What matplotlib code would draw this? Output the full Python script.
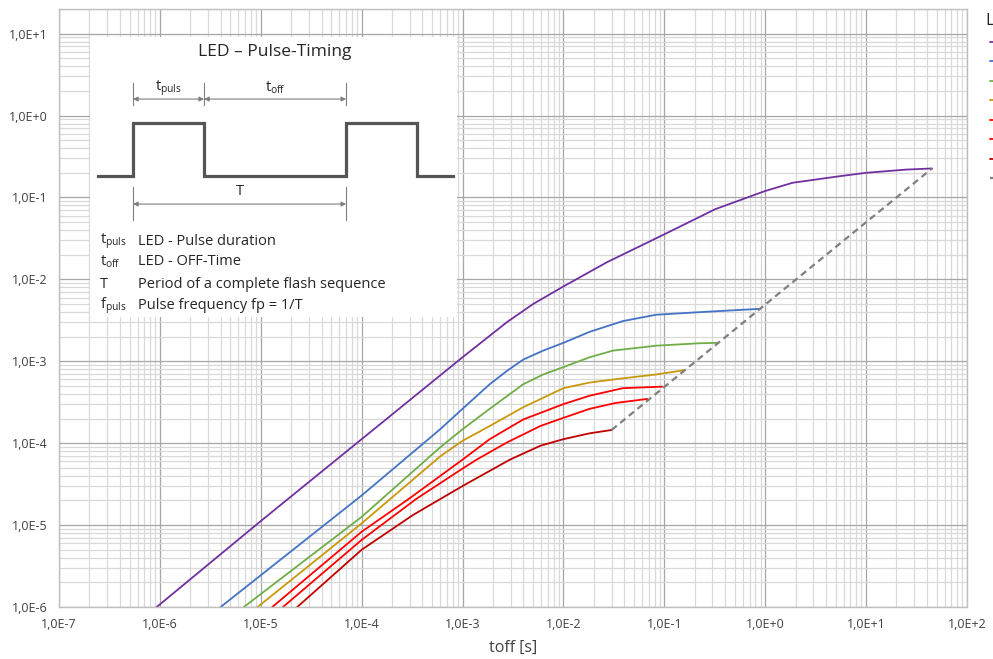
import numpy as np
import matplotlib
matplotlib.use("Agg")
import matplotlib.pyplot as plt
from matplotlib.ticker import LogLocator, FixedLocator, FuncFormatter, NullFormatter

plt.rcParams['font.family'] = ['Open Sans', 'DejaVu Sans']
plt.rcParams['mathtext.fontset'] = 'custom'
plt.rcParams['mathtext.rm'] = 'Open Sans'
plt.rcParams['mathtext.it'] = 'Open Sans'

# ---------------- data ----------------
purple_x = [9.3e-7, 1e-5, 1e-4, 1e-3, 2.75e-3, 5.0e-3, 1e-2, 2.7e-2, 0.1, 0.32, 1.0, 1.86, 5.5, 10, 25, 45]
purple_y = [1e-6, 1.12e-5, 1.12e-4, 1.12e-3, 3.0e-3, 5.0e-3, 8.2e-3, 1.62e-2, 3.55e-2, 7.2e-2, 0.12, 0.151, 0.182, 0.20, 0.219, 0.226]

blue_x = [4.0e-6, 1e-4, 6.0e-4, 1e-3, 1.86e-3, 2.82e-3, 4.0e-3, 6.3e-3, 1e-2, 1.82e-2, 3.9e-2, 8.3e-2, 0.224, 0.89]
blue_y = [1e-6, 2.3e-5, 1.48e-4, 2.63e-4, 5.25e-4, 7.8e-4, 1.05e-3, 1.35e-3, 1.68e-3, 2.29e-3, 3.1e-3, 3.7e-3, 3.98e-3, 4.37e-3]

green_x = [6.8e-6, 1e-4, 6.0e-4, 1e-3, 1.86e-3, 4.0e-3, 6.3e-3, 1e-2, 1.82e-2, 3.1e-2, 8.3e-2, 0.224, 0.34]
green_y = [1e-6, 1.26e-5, 8.9e-5, 1.48e-4, 2.63e-4, 5.25e-4, 6.9e-4, 8.5e-4, 1.12e-3, 1.35e-3, 1.55e-3, 1.66e-3, 1.68e-3]

gold_x = [9.3e-6, 1e-4, 6.0e-4, 1e-3, 1.86e-3, 4.0e-3, 1e-2, 1.82e-2, 3.9e-2, 8.3e-2, 0.16]
gold_y = [1e-6, 1.05e-5, 6.9e-5, 1.07e-4, 1.62e-4, 2.75e-4, 4.7e-4, 5.5e-4, 6.2e-4, 6.9e-4, 7.8e-4]

red1_x = [1.3e-5, 1e-4, 2.95e-4, 1e-3, 1.86e-3, 4.0e-3, 1e-2, 1.82e-2, 3.9e-2, 9.5e-2]
red1_y = [1e-6, 8.3e-6, 2.1e-5, 6.3e-5, 1.12e-4, 1.95e-4, 3.0e-4, 3.8e-4, 4.7e-4, 4.9e-4]

red2_x = [1.66e-5, 1e-4, 3.5e-4, 1e-3, 1.38e-3, 2.75e-3, 5.9e-3, 1e-2, 1.82e-2, 3.3e-2, 6.8e-2]
red2_y = [1e-6, 6.6e-6, 2.1e-5, 4.9e-5, 6.3e-5, 1.02e-4, 1.62e-4, 2.04e-4, 2.63e-4, 3.1e-4, 3.47e-4]

darkred_x = [2.3e-5, 1e-4, 3.2e-4, 1e-3, 2.95e-3, 5.9e-3, 1e-2, 1.82e-2, 3.0e-2]
darkred_y = [1e-6, 5e-6, 1.32e-5, 3.0e-5, 6.3e-5, 9.3e-5, 1.12e-4, 1.32e-4, 1.45e-4]

limit_x = [0.030, 45]
limit_y = [1.45e-4, 0.226]

x_ticks = [1e-7, 1e-6, 1e-5, 1e-4, 1e-3, 1e-2, 1e-1, 1e0, 1e1, 1e2]
y_ticks = [1e-6, 1e-5, 1e-4, 1e-3, 1e-2, 1e-1, 1e0, 1e1]

series = [
    ("Curve 1", purple_x, purple_y, "#7030a0"),
    ("Curve 2", blue_x, blue_y, "#4472c4"),
    ("Curve 3", green_x, green_y, "#70ad47"),
    ("Curve 4", gold_x, gold_y, "#c9980c"),
    ("Curve 5", red1_x, red1_y, "#ff0000"),
    ("Curve 6", red2_x, red2_y, "#ff0000"),
    ("Curve 7", darkred_x, darkred_y, "#c00000"),
]

# diagram quantities (relative units)
t_puls = 1.0
t_off = 2.0

# ---------------- figure ----------------
W, H = 993, 659
fig = plt.figure(figsize=(W / 100, H / 100), dpi=100)
ax = fig.add_axes([59 / W, 52 / H, (967 - 59) / W, (607 - 9) / H])

for label, xs, ys, c in series:
    ax.plot(xs, ys, color=c, lw=1.3, label=label, solid_joinstyle='round', solid_capstyle='round')
ax.plot(limit_x, limit_y, color="#808080", lw=1.6, ls=(0, (3, 2)), label="Limit")

ax.set_xscale('log')
ax.set_yscale('log')
ax.set_xlim(1e-7, 1e2)
ax.set_ylim(1e-6, 2e1)

ax.xaxis.set_major_locator(FixedLocator(x_ticks))
ax.yaxis.set_major_locator(FixedLocator(y_ticks))
ax.xaxis.set_minor_locator(LogLocator(base=10, subs=np.arange(2, 10), numticks=200))
ax.yaxis.set_minor_locator(LogLocator(base=10, subs=np.arange(2, 10), numticks=200))

def fmt(v, pos):
    e = int(round(np.log10(v)))
    return "1,0E%+d" % e

ax.xaxis.set_major_formatter(FuncFormatter(fmt))
ax.yaxis.set_major_formatter(FuncFormatter(fmt))
ax.xaxis.set_minor_formatter(NullFormatter())
ax.yaxis.set_minor_formatter(NullFormatter())

ax.grid(True, which='major', color='#a6a6a6', lw=0.9)
ax.grid(True, which='minor', color='#d9d9d9', lw=0.9)
ax.set_axisbelow(True)
ax.tick_params(which='both', length=0, labelsize=9, colors='#404040', pad=8)
for s in ax.spines.values():
    s.set_color('#bfbfbf')
    s.set_linewidth(1.0)

ax.set_xlabel("toff [s]", fontsize=11.5, color='#404040', labelpad=6)

# legend (mostly outside the visible canvas, as in the reference)
fig.text(985 / W, 1 - 25 / H, "Legend", fontsize=12, color='#262626', ha='left', va='baseline')
leg = fig.legend(loc='upper left', bbox_to_anchor=(985 / W, 1 - 31 / H), frameon=False,
                 fontsize=9, handlelength=1.5, labelspacing=0.52, borderaxespad=0)

# ---------------- inset diagram ----------------
ix = fig.add_axes([90 / W, 1 - 317 / H, 367 / W, 280 / H], zorder=5)
ix.set_facecolor('white')
ix.set_xlim(-0.606, 4.56)
ix.set_ylim(-2.66, 2.62)
for s in ix.spines.values():
    s.set_visible(False)
ix.set_xticks([]); ix.set_yticks([])

T = t_puls + t_off
wave_t = [-0.5, 0, 0, t_puls, t_puls, T, T, T + t_puls, T + t_puls, T + t_puls + 0.5]
wave_v = [0, 0, 1, 1, 0, 0, 1, 1, 0, 0]
ix.plot(wave_t, wave_v, color='#555555', lw=2.3, solid_joinstyle='miter')

gcol = '#7f7f7f'
for xv in [0, t_puls, T]:
    ix.plot([xv, xv], [1.34, 1.75], color=gcol, lw=0.8)
for xv in [0, T]:
    ix.plot([xv, xv], [-0.2, -0.83], color=gcol, lw=0.8)
aprops = dict(arrowstyle='<|-|>', color=gcol, lw=0.8, mutation_scale=7, shrinkA=0, shrinkB=0)
ix.annotate('', xy=(0, 1.45), xytext=(t_puls, 1.45), arrowprops=aprops)
ix.annotate('', xy=(t_puls, 1.45), xytext=(T, 1.45), arrowprops=aprops)
ix.annotate('', xy=(0, -0.53), xytext=(T, -0.53), arrowprops=aprops)

tc = '#262626'
ix.text(t_puls / 2, 1.66, r"t$_{\mathrm{puls}}$", ha='center', va='center', fontsize=10.5, color=tc)
ix.text(t_puls + t_off / 2, 1.66, r"t$_{\mathrm{off}}$", ha='center', va='center', fontsize=10.5, color=tc)
ix.text(T / 2, -0.30, "T", ha='center', va='center', fontsize=10.5, color=tc)
ix.text(2.0, 2.34, "LED – Pulse-Timing", ha='center', va='center', fontsize=12.5, color=tc)

rows = [
    (r"t$_{\mathrm{puls}}$", "LED - Pulse duration"),
    (r"t$_{\mathrm{off}}$", "LED - OFF-Time"),
    ("T", "Period of a complete flash sequence"),
    (r"f$_{\mathrm{puls}}$", "Pulse frequency fp = 1/T"),
]
row_y = [-1.23, -1.62, -2.04, -2.45]
for (sym, desc), yv in zip(rows, row_y):
    ix.text(-0.47, yv, sym, ha='left', va='center', fontsize=10.5, color=tc)
    ix.text(0.07, yv, desc, ha='left', va='center', fontsize=10.5, color=tc)

fig.savefig("out.png", dpi=100)
